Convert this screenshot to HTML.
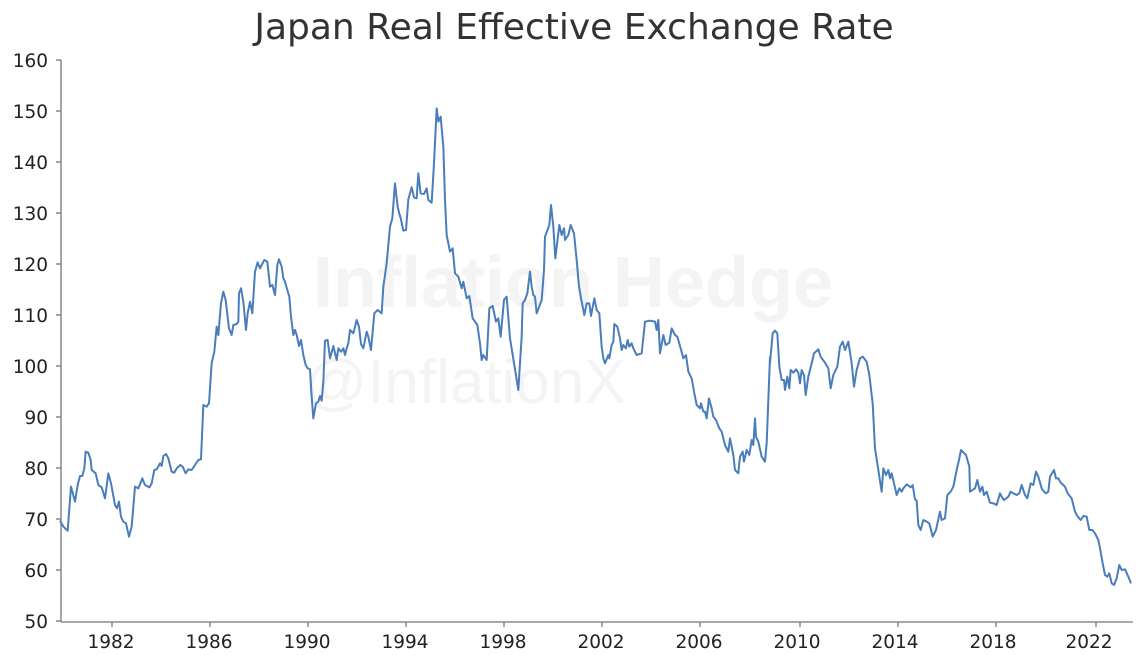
<!DOCTYPE html>
<html><head><meta charset="utf-8"><style>
body{margin:0;background:#fff;}
svg{display:block;font-family:"DejaVu Sans","Liberation Sans",sans-serif;}
</style></head><body>
<svg width="1145" height="655" viewBox="0 0 1145 655">
<text x="574" y="39" text-anchor="middle" font-size="36" fill="#333">Japan Real Effective Exchange Rate</text>
<text x="573" y="307" text-anchor="middle" font-size="72" font-weight="bold" fill="#f4f4f4" font-family="Liberation Sans, sans-serif">Inflation Hedge</text>
<text x="465" y="403" text-anchor="middle" font-size="62" fill="#f4f4f4" font-family="Liberation Sans, sans-serif">@InflationX</text>
<g stroke="#777" stroke-width="1.3" fill="none">
<line x1="61" y1="60" x2="61" y2="622"/>
<line x1="61" y1="622" x2="1133" y2="622"/>
<line x1="56" y1="60" x2="61" y2="60"/><line x1="56" y1="111" x2="61" y2="111"/><line x1="56" y1="162" x2="61" y2="162"/><line x1="56" y1="213" x2="61" y2="213"/><line x1="56" y1="264" x2="61" y2="264"/><line x1="56" y1="315" x2="61" y2="315"/><line x1="56" y1="366" x2="61" y2="366"/><line x1="56" y1="417" x2="61" y2="417"/><line x1="56" y1="468" x2="61" y2="468"/><line x1="56" y1="519" x2="61" y2="519"/><line x1="56" y1="570" x2="61" y2="570"/><line x1="56" y1="621" x2="61" y2="621"/>
<line x1="112" y1="622" x2="112" y2="627"/><line x1="210" y1="622" x2="210" y2="627"/><line x1="308" y1="622" x2="308" y2="627"/><line x1="406" y1="622" x2="406" y2="627"/><line x1="504" y1="622" x2="504" y2="627"/><line x1="602" y1="622" x2="602" y2="627"/><line x1="700" y1="622" x2="700" y2="627"/><line x1="800" y1="622" x2="800" y2="627"/><line x1="898" y1="622" x2="898" y2="627"/><line x1="996" y1="622" x2="996" y2="627"/><line x1="1096" y1="622" x2="1096" y2="627"/>
</g>
<g font-size="18.5" fill="#222" text-anchor="end">
<text x="48" y="67">160</text><text x="48" y="118">150</text><text x="48" y="169">140</text><text x="48" y="220">130</text><text x="48" y="271">120</text><text x="48" y="322">110</text><text x="48" y="373">100</text><text x="48" y="424">90</text><text x="48" y="475">80</text><text x="48" y="526">70</text><text x="48" y="577">60</text><text x="48" y="628">50</text>
</g>
<g font-size="18.5" fill="#222" text-anchor="middle">
<text x="111" y="648">1982</text><text x="209" y="648">1986</text><text x="307" y="648">1990</text><text x="405" y="648">1994</text><text x="503" y="648">1998</text><text x="601" y="648">2002</text><text x="699" y="648">2006</text><text x="797" y="648">2010</text><text x="895" y="648">2014</text><text x="993" y="648">2018</text><text x="1089" y="648">2022</text>
</g>
<g fill="none" stroke="#4a7dbb" stroke-width="2" stroke-linejoin="round">
<polyline vector-effect="non-scaling-stroke" transform="translate(55,100) scale(0.33333)" points="15,1262 25,1280 38,1292 48,1160 60,1205 68,1155 75,1128 82,1128 88,1105 92,1055 100,1058 107,1080 110,1110 122,1120 130,1155 140,1162 150,1195 160,1120 168,1150 180,1215 186,1225 192,1205 198,1250 205,1265 213,1270 222,1310 230,1280 240,1160 250,1165 262,1135 270,1155 283,1162 290,1150 298,1110 305,1108 315,1090 320,1098 325,1068 333,1062 340,1075 350,1115 358,1118 365,1105 376,1095 383,1100 392,1120 400,1108 410,1110 420,1095 430,1080 438,1078 445,915 455,920 462,910 470,790 478,755 485,680 490,705 498,610 505,575 512,600 522,685 530,705 535,675 545,672 550,665 552,580 558,565 565,605 573,690 578,640 585,605 592,640 600,515 608,487 615,505 620,495 628,480 637,485 645,560 652,555 660,585 667,495 672,478 680,500 685,535 690,545 697,570 703,590 708,650 715,705 720,690 725,705 732,738 738,720 745,765 752,795 758,805 765,808 770,890 775,955 783,910 790,905 795,888 800,902 805,845 810,722 818,720 825,775 835,738 845,780 850,745 858,755 865,745 870,765 875,745 880,730 885,690 895,700 905,660 912,680 918,732 925,745 935,695 940,710 948,750 958,640 968,630 980,640 985,560 995,490 1005,380 1012,355 1020,250 1028,320 1035,350"/>
<polyline vector-effect="non-scaling-stroke" transform="translate(400,100) scale(0.33333)" points="0,345 10,392 18,390 25,298 35,262 42,292 50,295 55,220 62,280 72,282 80,265 85,300 95,308 102,190 110,25 115,65 122,50 130,140 135,300 140,405 150,455 158,445 165,520 175,530 185,565 190,545 200,595 208,588 218,655 232,675 240,730 245,780 250,765 260,780 268,625 278,618 288,665 295,655 302,710 312,600 320,590 330,715 355,870 365,710 368,610 375,600 382,580 390,515 395,560 400,585 405,590 410,640 425,600 432,510 435,410 448,375 453,315 460,380 466,475 478,375 485,405 492,385 495,420 505,405 512,375 522,400 530,480 537,560 545,605 553,645 560,610 568,610 573,648 583,595 590,630 598,640 605,740 610,775 615,790 625,765 628,775 635,735 640,725 643,672 652,680 660,715 665,750 670,735 678,745 683,720 688,740 695,730 700,745 710,765 725,760 735,665 748,662 765,665 770,690 775,660 780,760 790,705 797,735 808,728 815,685 825,705 832,710 842,745 850,775 858,765 865,815 875,835 883,880 890,915 900,925 903,910 910,935 915,935 920,955 927,895 935,925 940,950 948,960 958,985 965,995 975,1035 985,1055 990,1015 1000,1065 1005,1110 1015,1120 1020,1070 1028,1055 1032,1085 1040,1050 1048,1065 1055,1020 1060,1035 1065,955 1068,1010 1075,1025 1085,1070 1095,1085 1100,1030 1110,770"/>
<polyline vector-effect="non-scaling-stroke" transform="translate(760,300) scale(0.33333)" points="30,190 38,100 45,92 52,100 58,200 65,240 72,240 75,270 82,230 88,265 92,210 100,218 108,208 115,218 120,250 125,210 132,225 137,285 145,230 155,190 162,160 175,148 182,170 195,188 205,205 212,265 220,225 232,200 240,140 248,125 255,150 265,125 275,190 282,260 290,210 300,175 308,170 320,185 328,225 338,310 345,445 355,510 365,575 370,505 378,525 385,510 390,535 395,520 402,550 410,585 418,565 425,575 430,565 440,553 452,562 458,555 465,598 470,602 475,675 482,690 490,660 500,665 508,670 518,710 528,690 540,635 545,660 555,655 562,585 572,575 580,560 590,510 597,480 603,450 618,465 628,500 630,575 645,565 652,540 660,575 667,560 672,585 680,575 690,608 700,610 710,615 720,580 725,590 732,600 745,590 752,575 760,580 770,585 778,580 785,555 795,585 802,595 812,550 820,555 828,515 835,530 845,565 852,575 858,580 865,575 870,530 882,510 888,535 895,535 902,548 915,560 923,580 935,595 945,635 952,648 962,660 970,648 980,650 988,690 997,690 1005,700 1015,720 1020,745 1028,790 1035,825 1042,830 1048,820 1055,850 1062,855 1070,835 1078,795 1085,810 1095,808 1105,830 1113,850"/>
</g>
</svg>
</body></html>
